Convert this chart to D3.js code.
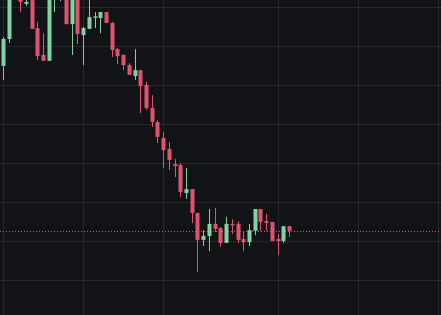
<!DOCTYPE html>
<html>
<head>
<meta charset="utf-8">
<script src="https://cdn.jsdelivr.net/npm/d3@7"></script>
<style>
  html, body { margin: 0; padding: 0; background: #121316; overflow: hidden; }
</style>
</head>
<body>
<div id="chart"></div>
<script>
// OHLC values (index = bar number)
const opens  = [14.49, 15.18, 16.38, 16.44, 16.08, 16.26, 15.46, 14.77, 14.62, 16.26,
                16.23, 16.49, 15.56, 16.31, 15.28, 15.44, 15.73, 15.72, 15.87, 15.59,
                14.92, 14.77, 14.51, 14.23, 14.38, 14.00, 13.41, 13.05, 12.64, 12.36,
                11.97, 11.95, 11.23, 11.33, 10.72, 10.03, 10.13, 10.44, 10.33, 9.95,
                10.44, 10.44, 10.05, 9.97, 10.26, 10.82, 10.51, 10.49, 10.05, 10.00, 10.38];
const highs  = [15.23, 16.64, 16.95, 16.56, 16.26, 16.33, 15.62, 15.33, 16.56, 16.82,
                16.69, 16.56, 16.44, 16.38, 15.49, 16.31, 15.87, 15.87, 15.87, 15.62,
                14.95, 14.79, 14.56, 14.92, 14.38, 14.08, 13.74, 13.10, 12.79, 12.54,
                12.10, 12.00, 11.87, 11.33, 10.72, 10.28, 10.82, 10.85, 10.36, 10.62,
                10.56, 10.51, 10.23, 10.44, 10.82, 10.82, 10.69, 10.49, 10.18, 10.38, 10.38];
const lows   = [14.13, 15.08, 16.28, 15.87, 16.03, 15.44, 14.64, 14.62, 14.62, 15.87,
                16.15, 15.56, 14.77, 15.05, 14.51, 15.44, 15.46, 15.33, 15.59, 14.72,
                14.54, 14.38, 14.26, 14.13, 13.28, 13.36, 12.92, 12.51, 11.87, 11.82,
                11.64, 11.13, 11.08, 10.46, 9.21, 9.87, 9.74, 10.23, 9.85, 9.95,
                10.18, 9.95, 9.74, 9.87, 10.15, 10.26, 10.26, 10.00, 9.64, 9.95, 10.10];
const closes = [15.18, 16.49, 16.82, 16.13, 16.13, 15.44, 14.74, 14.62, 16.38, 16.69,
                16.56, 15.56, 16.31, 15.31, 15.46, 15.74, 15.76, 15.87, 15.59, 14.90,
                14.74, 14.51, 14.26, 14.38, 13.97, 13.41, 13.05, 12.67, 12.33, 12.08,
                11.92, 11.26, 11.33, 10.72, 10.03, 10.13, 10.44, 10.31, 9.95, 10.44,
                10.41, 10.03, 9.97, 10.28, 10.82, 10.49, 10.46, 10.00, 10.00, 10.38, 10.26];

// grid positions
const priceTicks = [9, 10, 11, 12, 13, 14, 15, 16];
const timeTicks = [0, 14, 28, 48, 62, 76];

const width = 441, height = 315;
const upColor = "#7fd3a3";
const downColor = "#e2526f";

const bars = opens.map((o, i) => ({ i, o, h: highs[i], l: lows[i], c: closes[i] }));

const x = d3.scaleLinear().domain([-0.5245, 76.57]).range([0, width]);
const y = d3.scaleLinear().domain([8.1026, 16.1795]).range([height, 0]);

const svg = d3.select("#chart").append("svg")
    .attr("width", width)
    .attr("height", height)
    .style("display", "block");

svg.append("rect").attr("width", width).attr("height", height).attr("fill", "#121316");

// grid lines
svg.append("g")
    .selectAll("line")
    .data(priceTicks).enter().append("line")
    .attr("x1", 0).attr("x2", width)
    .attr("y1", d => Math.round(y(d)) + 0.5)
    .attr("y2", d => Math.round(y(d)) + 0.5)
    .attr("stroke", "#26282c");

svg.append("g")
    .selectAll("line")
    .data(timeTicks).enter().append("line")
    .attr("y1", 0).attr("y2", height)
    .attr("x1", d => Math.round(x(d)) + 0.5)
    .attr("x2", d => Math.round(x(d)) + 0.5)
    .attr("stroke", "#26282c");

// last price line (dotted)
const last = closes[closes.length - 1];
svg.append("line")
    .attr("x1", 0).attr("x2", width)
    .attr("y1", Math.round(y(last)) + 0.5)
    .attr("y2", Math.round(y(last)) + 0.5)
    .attr("stroke", "#f0476e")
    .attr("stroke-dasharray", "1,2")
    .attr("shape-rendering", "crispEdges");

// candles
const candles = svg.append("g")
    .selectAll("g")
    .data(bars).enter().append("g");

candles.append("line")
    .attr("x1", d => Math.round(x(d.i)) + 0.5)
    .attr("x2", d => Math.round(x(d.i)) + 0.5)
    .attr("y1", d => y(d.h))
    .attr("y2", d => y(d.l))
    .attr("stroke", d => d.c >= d.o ? upColor : downColor)
    .attr("stroke-width", 1);

candles.append("rect")
    .attr("x", d => Math.round(x(d.i)) - 1.5)
    .attr("width", 4)
    .attr("y", d => y(Math.max(d.o, d.c)))
    .attr("height", d => Math.max(1.5, Math.abs(y(d.o) - y(d.c))))
    .attr("fill", d => d.c >= d.o ? upColor : downColor);
</script>
</body>
</html>
